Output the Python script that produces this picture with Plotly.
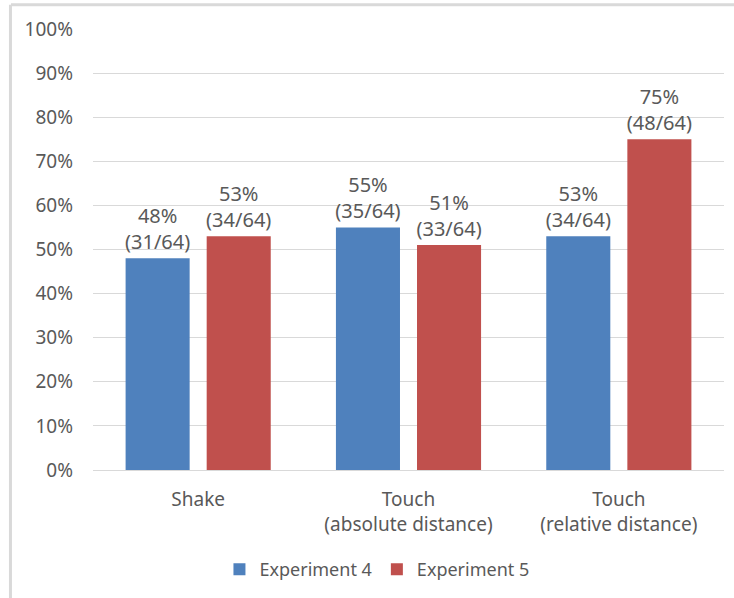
import plotly.graph_objects as go

categories = ["Shake", "Touch<br>(absolute distance)", "Touch<br>(relative distance)"]
exp4_values = [0.48, 0.55, 0.53]
exp5_values = [0.53, 0.51, 0.75]
exp4_counts = ["31/64", "35/64", "34/64"]
exp5_counts = ["34/64", "33/64", "48/64"]
series_names = ["Experiment 4", "Experiment 5"]
colors = ["#4F81BD", "#C0504D"]

FONT = "Noto Sans"
GRAY = "#595959"

def labels(vals, counts):
    return [f"{round(v*100)}%<br>({c})" for v, c in zip(vals, counts)]

fig = go.Figure()
for name, vals, counts, col in [(series_names[0], exp4_values, exp4_counts, colors[0]),
                                 (series_names[1], exp5_values, exp5_counts, colors[1])]:
    fig.add_trace(go.Bar(
        x=categories, y=vals, name=name, marker=dict(color=col, line=dict(width=0)),
        text=labels(vals, counts), textposition="outside", cliponaxis=False,
        constraintext="none",
        textfont=dict(family=FONT, size=20, color=GRAY),
    ))

fig.update_layout(
    width=734, height=598,
    margin=dict(l=93, r=10, t=29, b=128),
    paper_bgcolor="white", plot_bgcolor="white",
    barmode="group", bargap=0.229, bargroupgap=0.21,
    font=dict(family=FONT, color=GRAY, size=18),
    showlegend=True,
    legend=dict(orientation="h", x=0.45, xanchor="center", y=-0.184, yanchor="top",
                bgcolor="rgba(0,0,0,0)",
                font=dict(family=FONT, size=18, color=GRAY), itemwidth=30),
)
fig.update_yaxes(range=[0, 1], dtick=0.1, tickformat=".0%", showgrid=True,
                 gridcolor="#d9d9d9", gridwidth=1, zeroline=True, zerolinecolor="#d9d9d9",
                 zerolinewidth=1, showline=False, ticklabelstandoff=19,
                 tickfont=dict(family=FONT, size=19, color=GRAY))
fig.update_xaxes(showline=False, ticks="", ticklabelstandoff=16,
                 tickfont=dict(family=FONT, size=19, color=GRAY))

# outer frame (top and left edges visible)
fig.add_shape(type="line", xref="paper", yref="paper", x0=-0.13, x1=1.02, y0=1.055, y1=1.055,
              line=dict(color="#d9d9d9", width=3))
fig.add_shape(type="line", xref="paper", yref="paper", x0=-0.1308, x1=-0.1308, y0=1.055, y1=-0.3,
              line=dict(color="#d9d9d9", width=3))

fig.write_html("out.html")
